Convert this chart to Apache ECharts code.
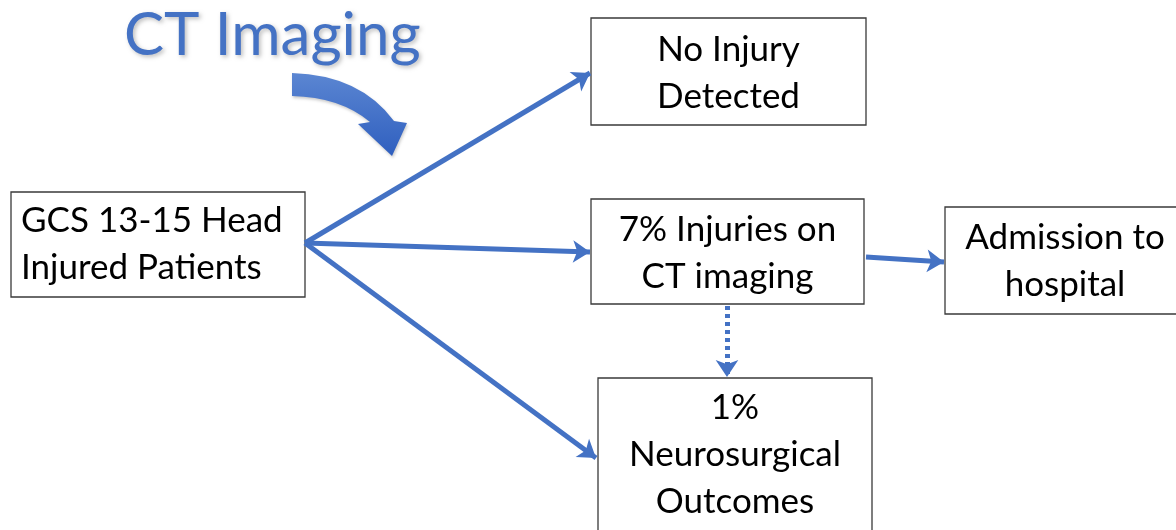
<!DOCTYPE html>
<html>
<head>
<meta charset="utf-8">
<script src="https://cdn.jsdelivr.net/npm/echarts@6/dist/echarts.min.js"></script>
<style>
    html, body { margin: 0; padding: 0; background: #fff; }
</style>
</head>
<body>
    <div id="flow_container" style="width: 1176px; height: 530px;"></div>

    <script type="text/javascript">
        // boxes of the flow: label, left, top, width, height, text align
        var boxLabels = ['No Injury\nDetected', 'GCS 13-15 Head\nInjured Patients', '7% Injuries on\nCT imaging', 'Admission to\nhospital', '1%\nNeurosurgical\nOutcomes'];
        var boxLeft   = [591, 11, 591, 945, 598];
        var boxTop    = [18, 192, 199, 207, 378];
        var boxWidth  = [275, 294, 273, 240, 274];
        var boxHeight = [107, 105, 105, 107, 160];
        var boxAlign  = ['center', 'left', 'center', 'center', 'center'];
        var boxTextY  = [73, 244, 253, 261, 455];

        // arrows: from -> to
        var arrowFrom = [[305, 243], [305, 243], [305, 243], [866, 257]];
        var arrowTo   = [[590, 73], [590, 252], [596, 458], [944, 262]];
        var dottedFrom = [[727, 306]];
        var dottedTo   = [[727, 377]];

        // the curved "CT Imaging" arrow
        var bendTop    = [[292, 73], [360, 75], [394, 121]];
        var bendHead   = [[407, 123], [392, 156], [358, 124]];
        var bendBottom = [[370, 122], [340, 97], [292, 96]];

        var chart = echarts.init(document.getElementById('flow_container'));
        var blue = '#4472C4';
        var font = 'Lato';

        var boxData = boxLabels.map(function (l, i) {
            return [boxLeft[i], boxTop[i], boxWidth[i], boxHeight[i], i];
        });

        function renderBox(params, api) {
            var i = api.value(4);
            var p0 = api.coord([api.value(0), api.value(1)]);
            var p1 = api.coord([api.value(0) + api.value(2), api.value(1) + api.value(3)]);
            var tx = boxAlign[i] === 'left' ? p0[0] + 10 : (p0[0] + p1[0]) / 2;
            var ty = api.coord([0, boxTextY[i]])[1];
            return {
                type: 'group',
                children: [{
                    type: 'rect',
                    shape: { x: p0[0], y: p0[1], width: p1[0] - p0[0], height: p1[1] - p0[1] },
                    style: { fill: '#fff', stroke: '#3a3a3a', lineWidth: 1.3 }
                }, {
                    type: 'text',
                    style: {
                        text: boxLabels[i], x: tx, y: ty,
                        align: boxAlign[i], verticalAlign: 'middle',
                        fontSize: 35, lineHeight: 47, fontFamily: font, fill: '#000'
                    }
                }]
            };
        }

        function renderBend(params, api) {
            var t = bendTop.map(function (p) { return api.coord(p); });
            var h = bendHead.map(function (p) { return api.coord(p); });
            var b = bendBottom.map(function (p) { return api.coord(p); });
            var d = 'M' + t[0] + ' Q' + t[1] + ' ' + t[2] +
                ' L' + h[0] + ' L' + h[1] + ' L' + h[2] +
                ' L' + b[0] + ' Q' + b[1] + ' ' + b[2] + ' Z';
            d = d.replace(/,/g, ' ');
            return {
                type: 'path',
                shape: { pathData: d },
                style: {
                    fill: new echarts.graphic.LinearGradient(0, 0, 0, 1, [
                        { offset: 0, color: '#5b86d2' },
                        { offset: 1, color: '#2f5fbf' }
                    ]),
                    shadowColor: 'rgba(0,0,0,0.2)', shadowBlur: 3, shadowOffsetX: 1, shadowOffsetY: 2
                }
            };
        }

        var option = {
            animation: false,
            backgroundColor: '#fff',
            title: {
                text: 'CT Imaging',
                left: 119,
                top: 1,
                textStyle: {
                    fontSize: 60, fontWeight: 'normal', fontFamily: font, color: blue,
                    textShadowColor: 'rgba(0,0,0,0.25)', textShadowBlur: 4,
                    textShadowOffsetX: 2, textShadowOffsetY: 2
                }
            },
            grid: { left: 0, right: 0, top: 0, bottom: 0 },
            xAxis: { type: 'value', min: 0, max: 1176, show: false },
            yAxis: { type: 'value', min: 0, max: 530, inverse: true, show: false },
            series: [{
                type: 'lines',
                coordinateSystem: 'cartesian2d',
                symbol: ['none', 'arrow'],
                symbolSize: 17,
                lineStyle: { color: blue, width: 5, opacity: 1 },
                data: arrowFrom.map(function (f, i) { return { coords: [f, arrowTo[i]] }; }),
                z: 3
            }, {
                type: 'lines',
                coordinateSystem: 'cartesian2d',
                symbol: ['none', 'arrow'],
                symbolSize: 17,
                lineStyle: { color: blue, width: 5, opacity: 1, type: [4, 4] },
                data: dottedFrom.map(function (f, i) { return { coords: [f, dottedTo[i]] }; }),
                z: 3
            }, {
                type: 'custom',
                renderItem: renderBox,
                data: boxData,
                z: 2
            }, {
                type: 'custom',
                renderItem: renderBend,
                data: [0],
                z: 2
            }]
        };
        chart.setOption(option);
    </script>
</body>
</html>
